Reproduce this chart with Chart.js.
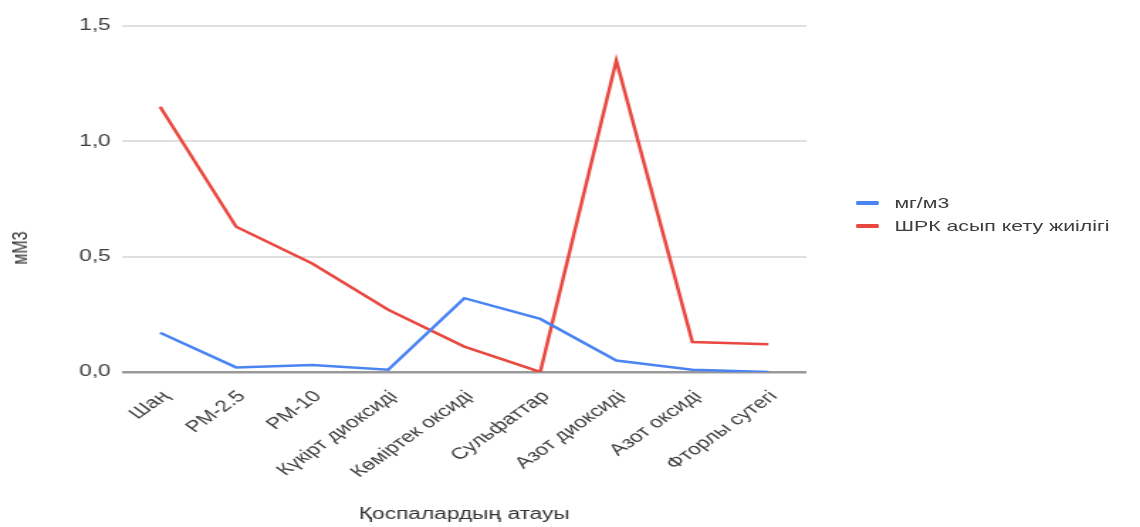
<!DOCTYPE html>
<html lang="kk">
<head>
<meta charset="utf-8">
<title>Қоспалардың атауы</title>
<script src="https://cdn.jsdelivr.net/npm/chart.js@4.4.1/dist/chart.umd.min.js"></script>
<style>
  html, body { margin: 0; padding: 0; background: #ffffff; overflow: hidden; }
  /* the chart is drawn on a narrower canvas and widened horizontally */
  #stage {
    position: absolute; left: 0; top: 0;
    width: 803px; height: 527px;
    transform: scaleX(1.4197); transform-origin: 0 0;
    font-family: "Liberation Sans", Arial, sans-serif;
  }
  #chart { position: absolute; left: 0; top: 0; }
  #ytitle {
    position: absolute; left: 14px; top: 248px;
    transform: translate(-50%, -50%) rotate(-90deg);
    font-size: 16px; color: #333; white-space: nowrap;
  }
  #legend { position: absolute; left: 603px; top: 191px; }
  .item { display: flex; align-items: center; height: 23px; }
  .swatch { width: 16px; height: 4px; border-radius: 1px; margin-right: 11px; }
  .label { font-size: 15px; color: #3c3c3c; white-space: nowrap; }
</style>
</head>
<body>
<div id="stage">
  <canvas id="chart" width="803" height="527"></canvas>
  <div id="ytitle">мМ3</div>
  <div id="legend"></div>
</div>
<script>
// Pollutant names along the x axis
const categories = ['Шаң', 'PM-2.5', 'PM-10', 'Күкірт диоксиді', 'Көміртек оксиді',
                    'Сульфаттар', 'Азот диоксиді', 'Азот оксиді', 'Фторлы сутегі'];
// Concentration, mg/m3
const concentration = [0.17, 0.02, 0.03, 0.01, 0.32, 0.23, 0.05, 0.01, 0.00];
// Frequency of exceeding the maximum permissible concentration
const exceedFrequency = [1.15, 0.63, 0.47, 0.27, 0.11, 0.00, 1.35, 0.13, 0.12];
// Y axis tick values
const yTicks = [0, 0.5, 1.0, 1.5];

const seriesNames = ['мг/м3', 'ШРК асып кету жиілігі'];
const seriesColors = ['#4a84f2', '#e8483f'];

const fontFamily = '"Liberation Sans", Arial, sans-serif';

const chart = new Chart(document.getElementById('chart'), {
  type: 'line',
  data: {
    labels: categories,
    datasets: [
      { label: seriesNames[0], data: concentration, borderColor: seriesColors[0],
        backgroundColor: seriesColors[0], borderWidth: 2.5, pointRadius: 0, tension: 0 },
      { label: seriesNames[1], data: exceedFrequency, borderColor: seriesColors[1],
        backgroundColor: seriesColors[1], borderWidth: 2.5, pointRadius: 0, tension: 0 }
    ]
  },
  options: {
    responsive: false,
    devicePixelRatio: 1,
    animation: false,
    layout: { padding: { top: 26, right: 235, bottom: 0, left: 0 } },
    plugins: { legend: { display: false }, tooltip: { enabled: false } },
    scales: {
      x: {
        offset: true,
        grid: { display: false, drawTicks: false },
        border: { display: false },
        ticks: {
          autoSkip: false, minRotation: 45, maxRotation: 45, padding: 15, labelOffset: 4,
          color: '#3c3c3c', font: { family: fontFamily, size: 16 }
        },
        title: {
          display: true, text: 'Қоспалардың атауы', color: '#333',
          font: { family: fontFamily, size: 16 }, padding: { top: 0, bottom: 3 }
        },
        afterFit(scale) { scale.height = 155; }
      },
      y: {
        min: yTicks[0], max: yTicks[yTicks.length - 1],
        afterBuildTicks(scale) { scale.ticks = yTicks.map(v => ({ value: v })); },
        grid: {
          drawTicks: false,
          color: ctx => ctx.tick && ctx.tick.value === 0 ? '#999999' : '#e0e0e0',
          lineWidth: ctx => ctx.tick && ctx.tick.value === 0 ? 2.5 : 2
        },
        border: { display: false },
        ticks: {
          padding: 8, color: '#3c3c3c', font: { family: fontFamily, size: 16 },
          callback: v => Number(v).toFixed(1).replace('.', ',')
        },
        afterFit(scale) { scale.width = 86; }
      }
    }
  }
});

// Legend built from the chart's own datasets
const legend = document.getElementById('legend');
chart.data.datasets.forEach(ds => {
  const item = document.createElement('div');
  item.className = 'item';
  const sw = document.createElement('span');
  sw.className = 'swatch';
  sw.style.background = ds.borderColor;
  const tx = document.createElement('span');
  tx.className = 'label';
  tx.textContent = ds.label;
  item.appendChild(sw);
  item.appendChild(tx);
  legend.appendChild(item);
});
</script>
</body>
</html>
